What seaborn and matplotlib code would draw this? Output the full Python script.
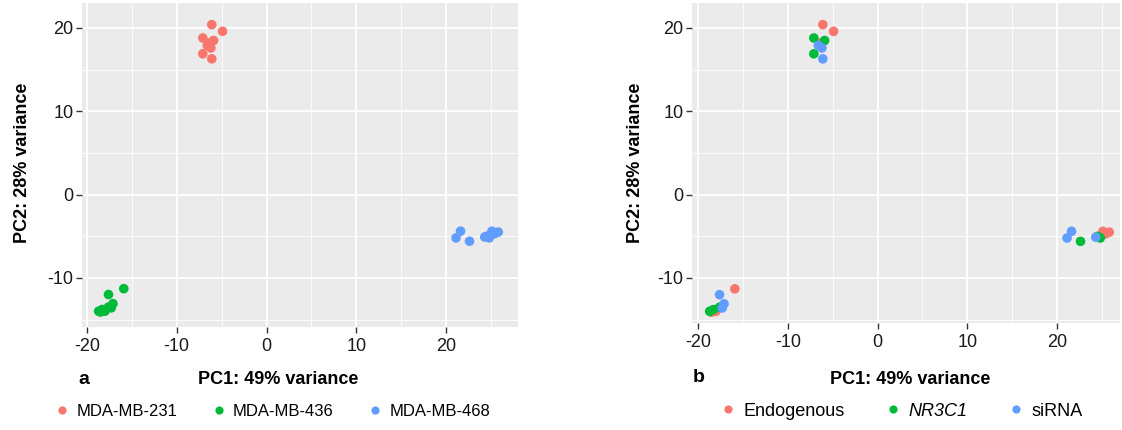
import matplotlib
matplotlib.use("Agg")
import matplotlib.pyplot as plt
from matplotlib.ticker import MultipleLocator
import pandas as pd
import seaborn as sns

# ---- data ----
cell_lines = ["MDA-MB-231", "MDA-MB-436", "MDA-MB-468"]
treatments = ["Endogenous", "NR3C1", "siRNA"]

pc1_231 = [-6.1, -4.9, -6.4, -7.1, -5.9, -7.1, -6.2, -6.6, -6.1]
pc2_231 = [20.4, 19.6, 18.2, 18.8, 18.5, 16.9, 17.6, 17.9, 16.3]
pc1_436 = [-15.9, -18.5, -18.0, -18.3, -17.6, -18.7, -17.6, -17.1, -17.3]
pc2_436 = [-11.3, -14.1, -14.0, -13.8, -13.5, -14.0, -12.0, -13.1, -13.6]
pc1_468 = [25.1, 25.8, 25.4, 22.6, 24.5, 24.8, 21.6, 21.1, 24.3]
pc2_468 = [-4.4, -4.5, -4.7, -5.6, -5.0, -5.2, -4.4, -5.2, -5.1]
treatment_per_sample = ["Endogenous"] * 3 + ["NR3C1"] * 3 + ["siRNA"] * 3

x_ticks = [-20, -10, 0, 10, 20]
y_ticks = [-10, 0, 10, 20]
x_label = "PC1: 49% variance"
y_label = "PC2: 28% variance"

df = pd.DataFrame({
    "PC1": pc1_231 + pc1_436 + pc1_468,
    "PC2": pc2_231 + pc2_436 + pc2_468,
    "cell_line": [cell_lines[0]] * 9 + [cell_lines[1]] * 9 + [cell_lines[2]] * 9,
    "treatment": treatment_per_sample * 3,
})

colors = ["#F8766D", "#00BA38", "#619CFF"]

plt.rcParams["font.family"] = ["Liberation Sans", "DejaVu Sans"]
plt.rcParams["axes.unicode_minus"] = False

fig = plt.figure(figsize=(11.22, 4.30), dpi=100)
ax_a = fig.add_axes([82 / 1122, 1 - 327 / 430, 436 / 1122, 324 / 430])
ax_b = fig.add_axes([692 / 1122, 1 - 323 / 430, 428 / 1122, 320 / 430])


def style_axis(ax, xlim, ylim):
    ax.set_facecolor("#EBEBEB")
    for s in ax.spines.values():
        s.set_visible(False)
    ax.set_xlim(*xlim)
    ax.set_ylim(*ylim)
    ax.set_xticks(x_ticks)
    ax.set_yticks(y_ticks)
    ax.xaxis.set_minor_locator(MultipleLocator(5))
    ax.yaxis.set_minor_locator(MultipleLocator(5))
    ax.grid(which="major", color="white", linewidth=1.3)
    ax.grid(which="minor", color="white", linewidth=0.6)
    ax.set_axisbelow(True)
    ax.tick_params(which="major", length=4, width=1, color="#333333",
                   labelsize=13, labelcolor="#1a1a1a", pad=2)
    ax.tick_params(axis="x", which="major", pad=4)
    ax.tick_params(which="minor", length=0)
    ax.set_xlabel("")
    ax.set_ylabel("")


sns.scatterplot(data=df, x="PC1", y="PC2", hue="cell_line", hue_order=cell_lines,
                palette=colors, s=48, linewidth=0, alpha=1, ax=ax_a)
sns.scatterplot(data=df, x="PC1", y="PC2", hue="treatment", hue_order=treatments,
                palette=colors, s=48, linewidth=0, alpha=1, ax=ax_b)

style_axis(ax_a, (-20.55, 28.0), (-15.9, 23.0))
style_axis(ax_b, (-20.67, 27.0), (-15.4, 23.0))

sns.move_legend(ax_a, "center", bbox_to_anchor=(0.436, -0.26),
                ncol=3, frameon=False, title=None, fontsize=12,
                handlelength=1.0, handletextpad=0.35, columnspacing=2.0,
                markerscale=0.85)
sns.move_legend(ax_b, "center", bbox_to_anchor=(0.488, -0.275),
                ncol=3, frameon=False, title=None, fontsize=13,
                handlelength=1.0, handletextpad=0.33, columnspacing=2.2,
                markerscale=0.85)

for t in ax_b.get_legend().get_texts():
    if t.get_text() == "NR3C1":
        t.set_style("italic")

# axis titles and panel tags
fig.text(278 / 1122, 1 - 380 / 430, x_label, ha="center", va="center",
         fontsize=13, fontweight="bold")
fig.text(910 / 1122, 1 - 380 / 430, x_label, ha="center", va="center",
         fontsize=13, fontweight="bold")
fig.text(23 / 1122, 1 - 163 / 430, y_label, ha="center", va="center",
         rotation=90, fontsize=13, fontweight="bold")
fig.text(636 / 1122, 1 - 163 / 430, y_label, ha="center", va="center",
         rotation=90, fontsize=13, fontweight="bold")
fig.text(84 / 1122, 1 - 380 / 430, "a", ha="center", va="center",
         fontsize=14, fontweight="bold")
fig.text(699 / 1122, 1 - 378 / 430, "b", ha="center", va="center",
         fontsize=14, fontweight="bold")

fig.savefig("out.png", dpi=100, facecolor="white")
